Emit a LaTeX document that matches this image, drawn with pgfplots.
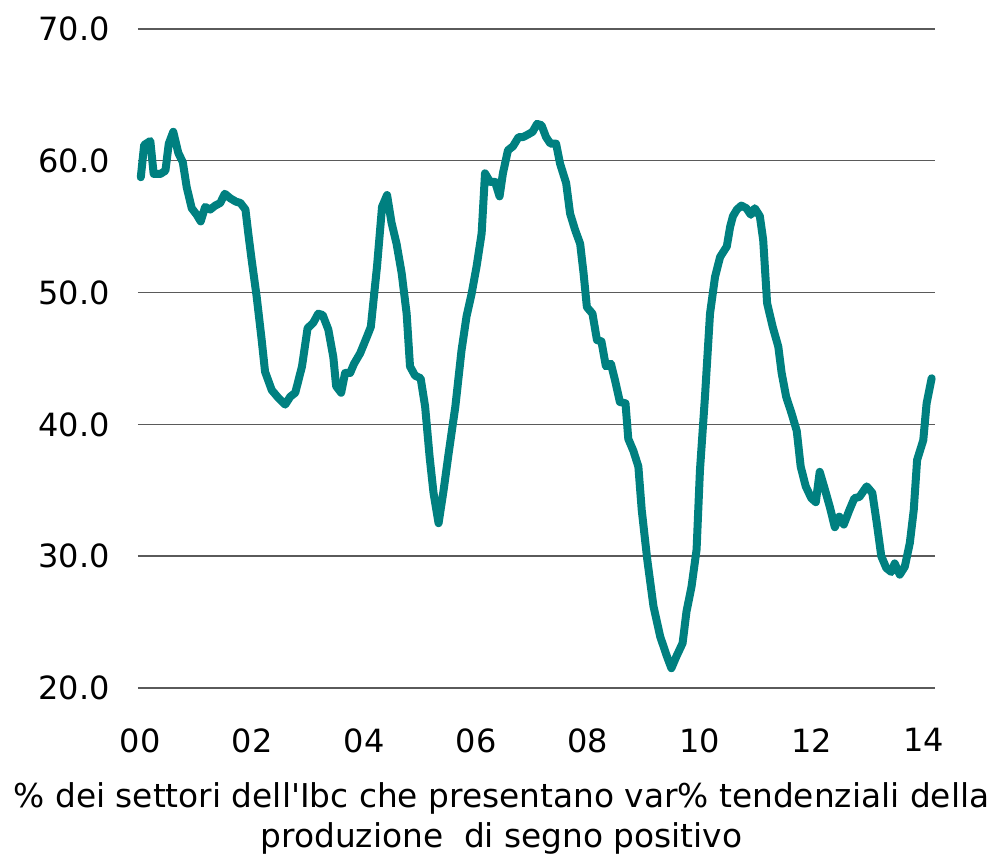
\documentclass[border=0pt]{standalone}
\usepackage{fontspec}
\setmainfont{DejaVu Sans}
\usepackage{pgfplots}
\pgfplotsset{compat=1.18}
\definecolor{tealline}{RGB}{0,128,128}
\definecolor{gridgray}{RGB}{90,90,90}

\begin{document}
\begin{tikzpicture}
\begin{axis}[
    scale only axis,
    width=398.5pt, height=329.5pt,
    xmin=-0.04, xmax=14.2,
    ymin=20, ymax=70,
    axis line style={draw=none},
    xtick={0,2,...,14},
    xticklabels={00,02,04,06,08,10,12,14},
    ytick={20,30,...,70},
    ymajorgrids,
    grid style={gridgray, line width=0.7pt},
    major tick length=0pt,
    tick label style={font=\fontsize{16}{19}\selectfont},
    /pgf/number format/.cd, fixed, fixed zerofill, precision=1, assume math mode=true,
    /pgfplots/.cd,
    yticklabel style={inner sep=0pt, xshift=-14pt},
    xticklabel style={inner sep=0pt, yshift=-20pt},
    xlabel={\% dei settori dell\textquotesingle Ibc che presentano var\% tendenziali della\\produzione\ \ di segno positivo},
    xlabel style={font=\fontsize{16.4}{20}\selectfont, align=center, at={(axis description cs:0.5,0)}, anchor=north, yshift=-44pt, xshift=-17.5pt},
    clip=false,
]
\addplot[tealline, line width=4pt, line join=round, line cap=round] coordinates {
(0.01,58.75) (0.07,61.2) (0.18,61.5) (0.24,59.0) (0.36,59.0) (0.45,59.25)
(0.51,61.3) (0.59,62.2) (0.68,60.6) (0.76,59.9) (0.83,58.0) (0.92,56.4)
(1.01,55.9) (1.08,55.4) (1.16,56.5) (1.25,56.3) (1.34,56.6) (1.43,56.8)
(1.51,57.5) (1.61,57.15) (1.71,56.9) (1.79,56.8) (1.88,56.3) (1.93,54.5)
(1.99,52.5) (2.08,49.7) (2.17,46.4) (2.23,44.0) (2.35,42.6) (2.47,42.0)
(2.59,41.5) (2.68,42.1) (2.77,42.4) (2.89,44.4) (2.99,47.3) (3.09,47.7)
(3.18,48.4) (3.26,48.3) (3.36,47.2) (3.45,45.1) (3.50,42.9) (3.59,42.4)
(3.66,43.9) (3.75,43.9) (3.82,44.6) (3.93,45.4) (4.05,46.65) (4.12,47.4)
(4.18,49.9) (4.23,51.96) (4.32,56.5) (4.41,57.4) (4.49,55.3) (4.58,53.7)
(4.67,51.5) (4.76,48.4) (4.82,44.4) (4.91,43.7) (5.01,43.5) (5.09,41.35)
(5.17,37.55) (5.24,34.8) (5.33,32.5) (5.42,35.0) (5.51,37.8) (5.63,41.35)
(5.74,45.6) (5.83,48.2) (5.92,49.9) (6.01,52.0) (6.10,54.5) (6.16,59.05)
(6.25,58.4) (6.34,58.4) (6.42,57.3) (6.48,59.05) (6.57,60.8) (6.66,61.1)
(6.76,61.8) (6.84,61.8) (6.93,62.0) (7.01,62.2) (7.09,62.8) (7.17,62.7)
(7.25,61.8) (7.33,61.3) (7.43,61.3) (7.50,59.8) (7.61,58.3) (7.68,56.0)
(7.77,54.75) (7.86,53.7) (7.92,51.5) (7.98,48.9) (8.08,48.4) (8.16,46.4)
(8.24,46.3) (8.32,44.4) (8.41,44.6) (8.48,43.4) (8.57,41.7) (8.67,41.6)
(8.72,38.9) (8.81,38.0) (8.90,36.8) (8.96,33.5) (9.06,29.7) (9.17,26.2)
(9.29,23.9) (9.41,22.4) (9.49,21.5) (9.58,22.4) (9.69,23.4) (9.76,25.8)
(9.85,27.7) (9.94,30.5) (10.00,36.5) (10.09,42.1) (10.18,48.4) (10.27,51.2)
(10.36,52.7) (10.48,53.5) (10.54,55.0) (10.59,55.8) (10.66,56.3) (10.74,56.6)
(10.83,56.4) (10.91,55.9) (10.98,56.4) (11.07,55.8) (11.13,54.0) (11.20,49.2)
(11.30,47.4) (11.40,45.9) (11.46,43.9) (11.54,42.1) (11.64,40.8) (11.73,39.5)
(11.80,36.8) (11.89,35.3) (11.99,34.4) (12.07,34.1) (12.14,36.4) (12.23,35.1)
(12.32,33.75) (12.41,32.2) (12.49,33.0) (12.57,32.4) (12.67,33.5) (12.76,34.4)
(12.85,34.5) (12.98,35.3) (13.08,34.8) (13.16,32.5) (13.24,30.0) (13.33,29.1)
(13.42,28.8) (13.48,29.45) (13.57,28.6) (13.66,29.2) (13.75,31.0) (13.82,33.5)
(13.88,37.3) (13.99,38.8) (14.05,41.6) (14.14,43.5)
};
\coordinate (sw) at (rel axis cs:0,0);
\coordinate (ne) at (rel axis cs:1,1);
\end{axis}
\pgfresetboundingbox
\path ([xshift=-69pt,yshift=-83pt]sw) rectangle ([xshift=29.5pt,yshift=14.5pt]ne);
\end{tikzpicture}
\end{document}
